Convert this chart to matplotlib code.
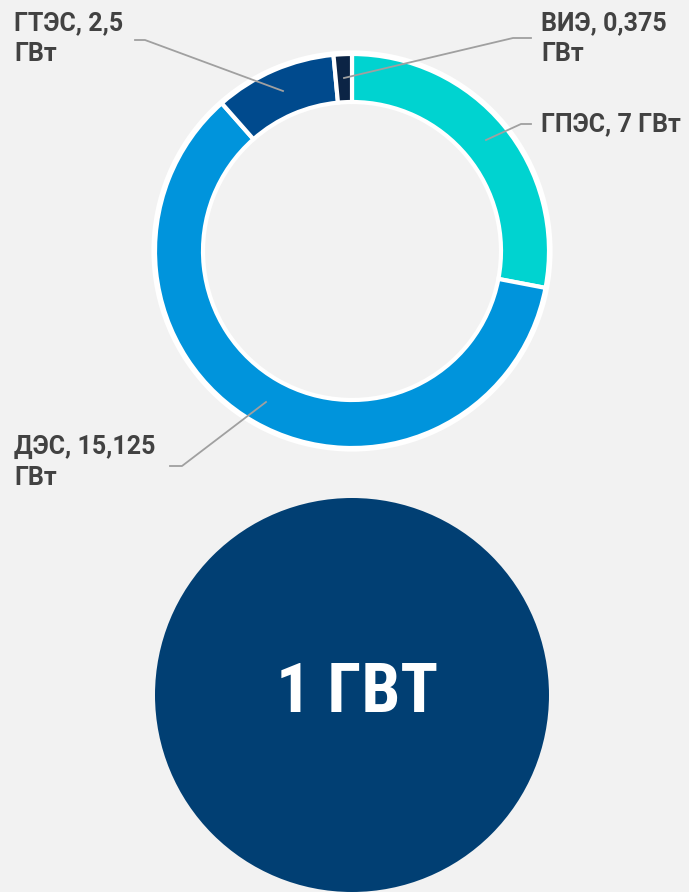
import matplotlib
matplotlib.use('Agg')
import matplotlib.pyplot as plt
from matplotlib.patches import Circle

# data
labels = ['ГПЭС, 7 ГВт', 'ДЭС, 15,125\nГВт', 'ГТЭС, 2,5\nГВт', 'ВИЭ, 0,375\nГВт']
values = [7, 15.125, 2.5, 0.375]
colors = ['#00d3d0', '#0094dc', '#004a8d', '#0b2445']
big_label = '1 ГВТ'

W, H = 689, 892
fig = plt.figure(figsize=(W / 100, H / 100), dpi=100, facecolor='#f2f2f2')
ax = fig.add_axes([0, 0, 1, 1])
ax.set_xlim(0, W)
ax.set_ylim(0, H)
ax.set_aspect('equal')
ax.axis('off')

cx, cy, r = 352, H - 251, 197
wedges, _ = ax.pie(values, colors=colors, startangle=90, counterclock=False,
                   center=(cx, cy), radius=r,
                   wedgeprops=dict(width=48, edgecolor='white', linewidth=3))
ax.set_xlim(0, W)
ax.set_ylim(0, H)
ax.add_patch(Circle((cx, cy), r + 1.5, fill=False, ec='white', lw=3))

# label positions (text x, text top y) and leader line points
lab_pos = [(541, 112), (14, 435), (14, 11), (541, 11)]
lines = [[(531, 124), (521, 124), (486, 140)],
         [(170, 466), (182, 466), (266, 402)],
         [(135, 40), (145, 40), (283, 91)],
         [(531, 38), (513, 38), (344, 78)]]
for lab, (tx, ty), pts in zip(labels, lab_pos, lines):
    ax.text(tx, H - ty, lab, family='Roboto', fontweight='bold', fontsize=18,
            color='#424242', va='top', ha='left', linespacing=1.35)
    ax.plot([p[0] for p in pts], [H - p[1] for p in pts], color='#a0a0a0', lw=1.3)

ax.add_patch(Circle((352, H - 695), 197, color='#013f73', lw=0))
ax.text(357, H - 693, big_label, family=['Roboto Condensed', 'DejaVu Sans'],
        fontstretch='condensed', fontweight='bold', fontsize=50,
        color='white', ha='center', va='center')

fig.savefig('out.png', dpi=100, facecolor=fig.get_facecolor())
